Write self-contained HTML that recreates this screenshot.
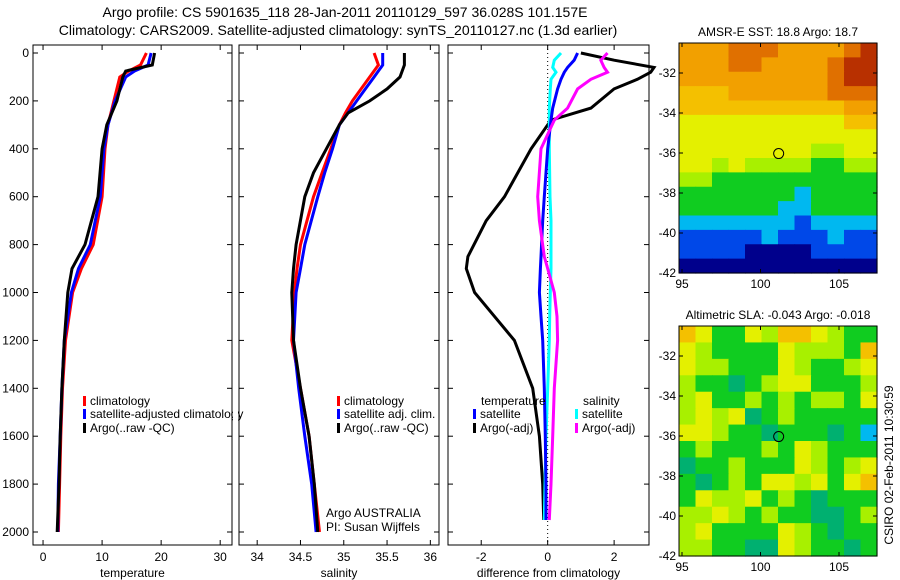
<!DOCTYPE html>
<html><head><meta charset="utf-8"><style>
body{margin:0;background:#fff;}
svg{display:block;font-family:"Liberation Sans",sans-serif;}
</style></head><body>
<svg id="c" width="900" height="580" xmlns="http://www.w3.org/2000/svg">
<text x="345" y="17" font-size="14" text-anchor="middle">Argo profile: CS 5901635_118 28-Jan-2011 20110129_597 36.028S 101.157E</text>
<text x="338" y="35" font-size="14" text-anchor="middle">Climatology: CARS2009. Satellite-adjusted climatology: synTS_20110127.nc (1.3d earlier)</text>
<g id="g"></g>
</svg>
<script>
const tDepth=[0,50,75,100,200,300,400,600,800,900,1000,1200,1400,1600,1800,2000];
const tArgo=[18.9,18.5,14,13.5,12.5,10.8,10,9.3,7.1,4.9,4.2,3.6,3.2,2.9,2.7,2.4];
const tClim=[17.5,16.5,14.5,13,12,11,10.5,10,8.5,6.5,5,3.8,3.3,3,2.8,2.6];
const tSat=[18.3,17.8,15.5,14,12.2,11,10.3,9.7,8,6,4.8,3.6,3.2,2.9,2.6,2.5];
const sDepth=[0,50,100,150,200,250,300,400,500,600,800,900,1000,1200,1400,1600,1800,2000];
const sArgo=[35.7,35.7,35.65,35.5,35.3,35.05,34.95,34.8,34.65,34.55,34.45,34.42,34.4,34.42,34.5,34.6,34.66,34.7];
const sClim=[35.35,35.4,35.3,35.2,35.1,35.02,34.95,34.85,34.75,34.65,34.5,34.46,34.43,34.4,34.5,34.6,34.66,34.72];
const sSat=[35.45,35.45,35.35,35.25,35.15,35.05,34.95,34.87,34.78,34.7,34.55,34.5,34.45,34.42,34.48,34.55,34.63,34.68];
const dDepth=[0,30,60,80,110,150,230,280,400,600,700,850,900,1000,1100,1200,1400,1600,1800,1950];
const dTArgo=[1,2,3.2,3.1,2.7,2,1.3,0.1,-0.5,-1.3,-1.85,-2.4,-2.45,-2.2,-1.6,-1,-0.45,-0.25,-0.15,-0.12];
const dTSat=[0.9,0.8,0.6,0.5,0.4,0.3,0.15,0.1,0,-0.1,-0.15,-0.2,-0.22,-0.25,-0.2,-0.15,-0.1,-0.07,-0.05,-0.05];
const dSSat=[0.4,0.2,0.15,0.25,0.1,0.08,0.05,0.05,0.05,0.07,0.1,0.1,0.1,0.08,0.06,0.05,0,-0.05,-0.08,-0.1];
const dSArgo=[1.8,1.6,1.7,1.8,1.3,0.9,0.6,0.2,-0.2,-0.3,-0.25,-0.1,0,0.2,0.28,0.3,0.2,0.15,0.1,0.05];
const depthTicks=[0,200,400,600,800,1000,1200,1400,1600,1800,2000];
const sstGrid=["777888777789","777887777899","777777777899","666777777888","666666666677","555555555566","555555555555","555555554455","554544443344","443333333333","333333323333","333333223333","222222212222","111112111211","111100001111","000000000000"];
const slaGrid=["653354665433","543333544436","544333543345","433a34553334","453343434435","4545a3433333","55433a333a32","343334354333","a33433354345","3a3435545356","35445343a333","44543433aa34","453333543a33","4433aa5433a3"];
const NS="http://www.w3.org/2000/svg";
const G=document.getElementById('g');
function el(t,a,p){const e=document.createElementNS(NS,t);for(const k in a)e.setAttribute(k,a[k]);(p||G).appendChild(e);return e;}
const Y0=53,Y1=532;
const yD=d=>Y0+(Y1-Y0)*d/2000;
function panel(name,L,R,x0,x1,xt,xl,xlabel){
  const sx=v=>L+(v-x0)/(x1-x0)*(R-L);
  const r=el('rect',{x:L,y:45,width:R-L,height:500,fill:'none',stroke:'#000'});
  
  xt.forEach((v,i)=>{const x=sx(v);el('line',{x1:x,x2:x,y1:545,y2:540,stroke:'#000'});el('line',{x1:x,x2:x,y1:45,y2:50,stroke:'#000'});
    const t=el('text',{x:x,y:561,'font-size':12,'text-anchor':'middle'});t.textContent=xl[i];
    });
  depthTicks.forEach(d=>{const y=yD(d);el('line',{x1:L,x2:L+5,y1:y,y2:y,stroke:'#000'});el('line',{x1:R,x2:R-5,y1:y,y2:y,stroke:'#000'});});
  const t=el('text',{x:(L+R)/2,y:577,'font-size':12,'text-anchor':'middle'});t.textContent=xlabel;
  
  return sx;
}
function line(sx,ds,vs,c,n){const p=el('polyline',{points:ds.map((d,i)=>sx(vs[i]).toFixed(1)+','+yD(d).toFixed(1)).join(' '),fill:'none',stroke:c,'stroke-width':3});
  }
function txt(x,y,s,n,a){const t=el('text',Object.assign({x:x,y:y,'font-size':12},a||{}));t.textContent=s;return t;}
function leg(x,y,c,s,n){el('rect',{x:x,y:y-9,width:3,height:10,fill:c});txt(x+7,y,s,n);}
const s1=panel('temperature-panel',33,232,-1.7,32,[0,10,20,30],['0','10','20','30'],'temperature');
depthTicks.forEach(d=>txt(29,yD(d)+4,String(d),'depth-tick-label',{'text-anchor':'end'}));
line(s1,tDepth,tClim,'#f00','temp-climatology-line');
line(s1,tDepth,tSat,'#00f','temp-satellite-line');
line(s1,tDepth,tArgo,'#000','temp-argo-line');
leg(83,405,'#f00','climatology','legend-climatology');
leg(83,418,'#00f','satellite-adjusted climatology','legend-satellite-adjusted');
leg(83,432,'#000','Argo(..raw -QC)','legend-argo-raw');
el('rect',{x:233,y:395,width:5,height:40,fill:'#fff'});
const s2=panel('salinity-panel',239,439,33.79,36.1,[34,34.5,35,35.5,36],['34','34.5','35','35.5','36'],'salinity');
line(s2,sDepth,sClim,'#f00','sal-climatology-line');
line(s2,sDepth,sSat,'#00f','sal-satellite-line');
line(s2,sDepth,sArgo,'#000','sal-argo-line');
leg(337,405,'#f00','climatology','legend-sal-climatology');
leg(337,418,'#00f','satellite adj. clim.','legend-sal-satellite');
leg(337,432,'#000','Argo(..raw -QC)','legend-sal-argo');
txt(326,517,'Argo AUSTRALIA','agency-label',{'font-size':12});
txt(326,531,'PI: Susan Wijffels','pi-label',{'font-size':12});
const s3=panel('difference-panel',448,649,-3,3.05,[-2,0,2],['-2','0','2'],'difference from climatology');
el('line',{x1:s3(0),x2:s3(0),y1:45,y2:545,stroke:'#000','stroke-dasharray':'1,3'});
line(s3,dDepth,dTArgo,'#000','diff-temp-argo-line');
line(s3,dDepth,dSSat,'#0ff','diff-sal-satellite-line');
line(s3,dDepth,dTSat,'#00f','diff-temp-satellite-line');
line(s3,dDepth,dSArgo,'#f0f','diff-sal-argo-line');
txt(481,405,'temperature','legend-temperature-heading');
leg(473,418,'#00f','satellite','legend-temp-satellite');
leg(473,432,'#000','Argo(-adj)','legend-temp-argo');
txt(583,405,'salinity','legend-salinity-heading');
leg(575,418,'#0ff','satellite','legend-sal-satellite-diff');
leg(575,432,'#f0f','Argo(-adj)','legend-sal-argo-diff');
const cols={'0':'#00008c','1':'#0048e8','2':'#00b8f0','3':'#10cc20','4':'#a8f000','5':'#e4f000','6':'#f4c000','7':'#f2a000','8':'#e07000','9':'#b83000','a':'#00b070'};
function map(name,T,grid,title){
  const L=679,R=877,B=T+230,gx=(R-L)/grid[0].length,gy=(B-T)/grid.length;
  grid.forEach((row,r)=>[...row].forEach((ch,c)=>el('rect',{x:L+c*gx,y:T+r*gy,width:gx+0.6,height:gy+0.6,fill:cols[ch]})));
  const f=el('rect',{x:L,y:T,width:R-L,height:B-T,fill:'none',stroke:'#000'});
  
  const sx=v=>682+(v-95)*15.7, sy=v=>T+(-v-30.5)*(B-T)/11.5;
  [95,100,105].forEach(v=>{el('line',{x1:sx(v),x2:sx(v),y1:B,y2:B-4,stroke:'#000'});el('line',{x1:sx(v),x2:sx(v),y1:T,y2:T+4,stroke:'#000'});txt(sx(v),B+15,String(v),name+'-lon-label',{'text-anchor':'middle'});});
  [-32,-34,-36,-38,-40,-42].forEach(v=>{el('line',{x1:L,x2:L+4,y1:sy(v),y2:sy(v),stroke:'#000'});el('line',{x1:R,x2:R-4,y1:sy(v),y2:sy(v),stroke:'#000'});txt(L-3,sy(v)+4,String(v),name+'-lat-label',{'text-anchor':'end'});});
  const c=el('circle',{cx:sx(101.157),cy:sy(-36.028),r:5,fill:'none',stroke:'#000'});
  
  txt((L+R)/2,T-7,title,name+'-title',{'text-anchor':'middle'});
}
map('sst-map',43,sstGrid,'AMSR-E SST: 18.8 Argo: 18.7');
map('sla-map',326,slaGrid,'Altimetric SLA: -0.043 Argo: -0.018');
txt(0,0,'CSIRO 02-Feb-2011 10:30:59','timestamp-label',{transform:'translate(893,465) rotate(-90)','text-anchor':'middle'});
</script>
</body></html>
